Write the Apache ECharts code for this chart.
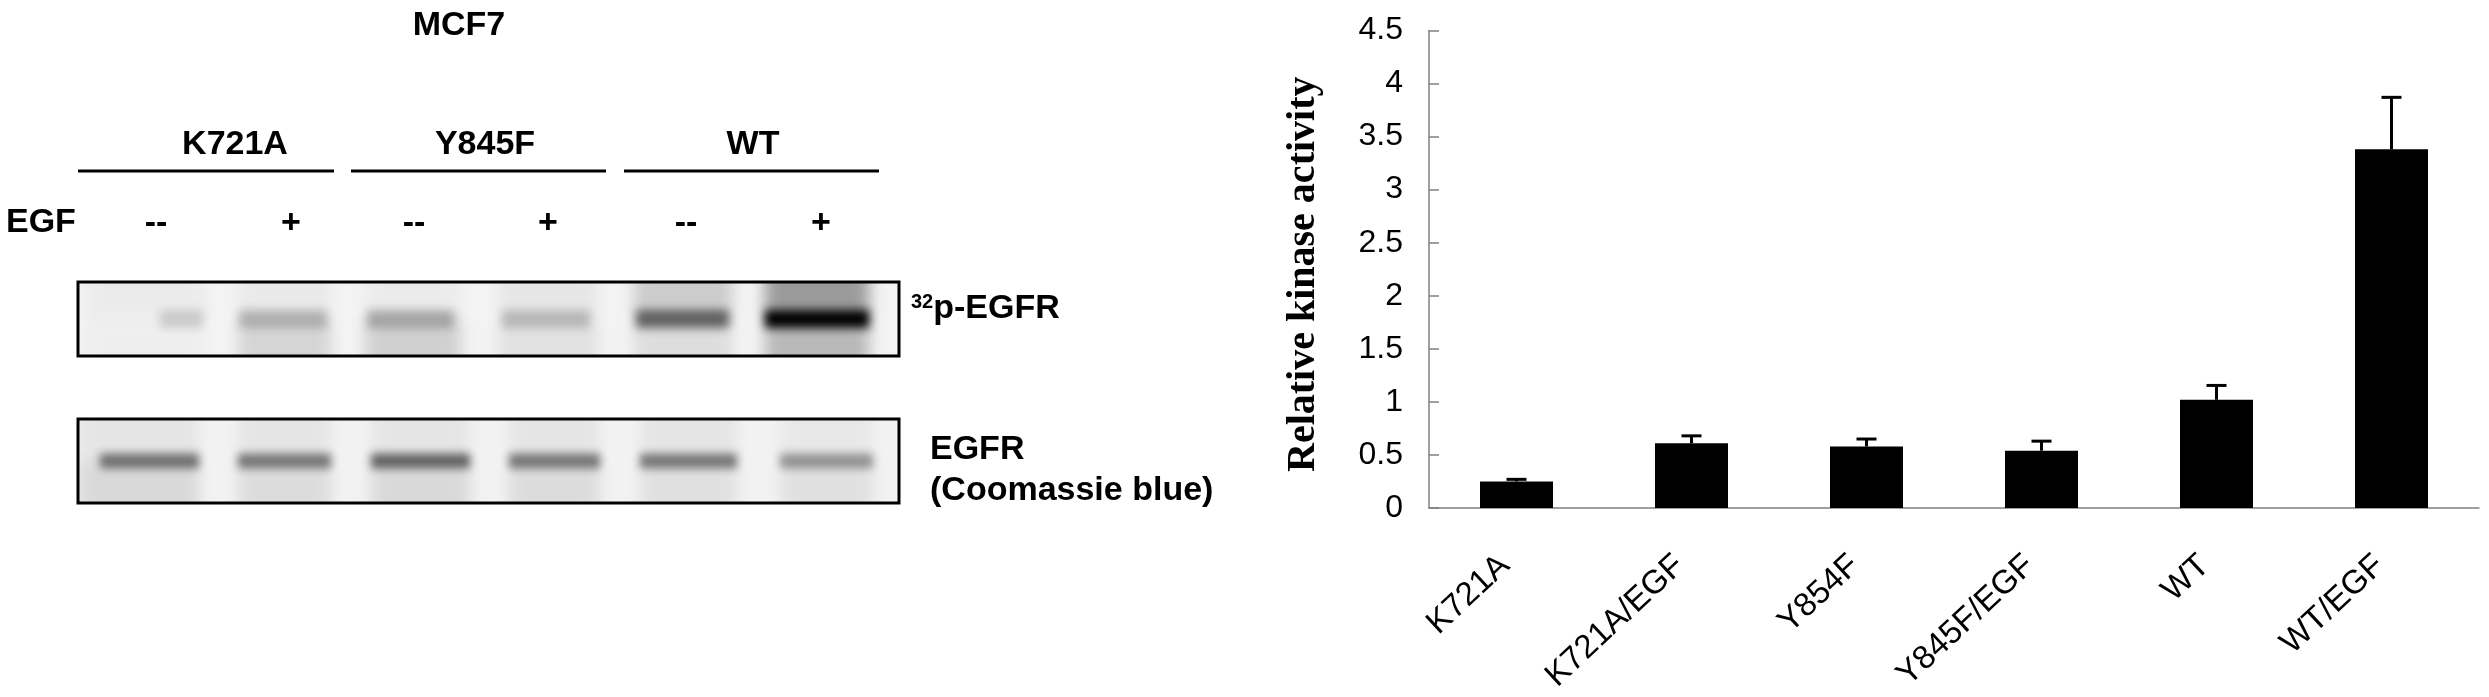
<!DOCTYPE html>
<html>
<head>
<meta charset="utf-8">
<style>
  html, body { margin: 0; padding: 0; background: #fff; }
  #main { width: 2489px; height: 697px; }
</style>
<script src="https://cdn.jsdelivr.net/npm/echarts@6/dist/echarts.min.js"></script>
</head>
<body>
<div id="main"></div>
<script>
// kinase activity bars
var categories = ['K721A', 'K721A/EGF', 'Y854F', 'Y845F/EGF', 'WT', 'WT/EGF'];
var activity = [0.25, 0.61, 0.58, 0.54, 1.02, 3.38];
var errorTop = [0.27, 0.68, 0.65, 0.63, 1.155, 3.87];
var yTicks = { min: 0, max: 4.5, interval: 0.5 };

// blot lanes: darkness 0-1 above the band, of the band, below the band
var pEgfrTop = [0.03, 0.04, 0.03, 0.05, 0.16, 0.36];
var pEgfrBand = [0.15, 0.22, 0.26, 0.2, 0.55, 1];
var pEgfrBottom = [0.02, 0.12, 0.14, 0.07, 0.09, 0.24];
var coomassieTop = [0.05, 0.05, 0.05, 0.05, 0.05, 0.04];
var coomassieBand = [0.5, 0.48, 0.56, 0.48, 0.48, 0.36];
var coomassieBottom = [0.1, 0.09, 0.1, 0.09, 0.07, 0.07];

// lane extents along the gel
var pEgfrLanes = [[7, 129], [160, 253], [287, 383], [420, 520], [556, 654], [687, 791]];
var pEgfrBands = [[82, 125], [161, 249], [289, 376], [424, 512], [558, 651], [687, 791]];
var coomassieLanes = [[0, 121], [160, 253], [293, 392], [431, 522], [562, 659], [702, 795]];
var coomassieBands = [[22, 121], [160, 253], [293, 392], [431, 522], [562, 659], [702, 795]];

var groupLabels = ['K721A', 'Y845F', 'WT'];
var egfSigns = ['--', '+', '--', '+', '--', '+'];

var OFF = 3000; // rects sit off the grid, only their blurred shadow lands on the gel

function blob(x, y, w, h, dark, blur) {
  return {
    type: 'rect',
    shape: { x: x - OFF, y: y, width: w, height: h },
    style: {
      fill: '#000',
      shadowBlur: blur,
      shadowOffsetX: OFF,
      shadowColor: 'rgba(0,0,0,' + dark + ')'
    }
  };
}

function blotSeries(idx, top, band, bottom, lanes, bands, bandHeight, blur) {
  var rows = lanes.map(function (l, i) {
    return [l[0], l[1], bands[i][0], bands[i][1], top[i], band[i], bottom[i]];
  });
  return {
    type: 'custom',
    xAxisIndex: idx,
    yAxisIndex: idx,
    clip: true,
    silent: true,
    data: rows,
    renderItem: function (params, api) {
      var tl = api.coord([api.value(0), 0]);
      var br = api.coord([api.value(1), 1]);
      var bs = api.coord([api.value(2), 0.5]);
      var be = api.coord([api.value(3), 0.5]);
      var midY = bs[1];
      return {
        type: 'group',
        children: [
          blob(tl[0], tl[1] - 30, br[0] - tl[0], midY - tl[1] + 30, api.value(4), 14),
          blob(tl[0], midY, br[0] - tl[0], br[1] - midY + 30, api.value(6), 14),
          blob(bs[0], midY - bandHeight / 2, be[0] - bs[0], bandHeight, api.value(5), blur)
        ]
      };
    }
  };
}

function label(text, x, y, size, align, extra) {
  return {
    type: 'text',
    x: x,
    y: y,
    style: Object.assign({
      text: text,
      fill: '#000',
      font: 'bold ' + size + 'px "Liberation Sans"',
      align: align,
      verticalAlign: 'middle'
    }, extra || {})
  };
}

function frame(x, y, w, h) {
  return {
    type: 'rect',
    z: 100,
    shape: { x: x, y: y, width: w, height: h },
    style: { fill: 'none', stroke: '#000', lineWidth: 3 }
  };
}

function rule(x1, x2, y) {
  return {
    type: 'line',
    shape: { x1: x1, y1: y, x2: x2, y2: y },
    style: { stroke: '#000', lineWidth: 3 }
  };
}

var groupX = [235, 485, 753];
var signX = [156, 291, 414, 548, 686, 821];

var graphics = [
  label('MCF7', 459, 26, 34, 'center'),
  label('EGF', 6, 223, 34, 'left'),
  label('{s|32}p-EGFR', 911, 309, 34, 'left', {
    rich: { s: { font: 'bold 20px "Liberation Sans"', fill: '#000', verticalAlign: 'top', padding: [0, 0, 14, 0] } }
  }),
  label('EGFR', 930, 450, 34, 'left'),
  label('(Coomassie blue)', 930, 491, 34, 'left'),
  rule(78, 334, 171),
  rule(351, 606, 171),
  rule(624, 879, 171),
  frame(78, 282, 821, 74),
  frame(78, 419, 821, 84)
];
groupLabels.forEach(function (t, i) {
  graphics.push(label(t, groupX[i], 145, 34, 'center'));
});
egfSigns.forEach(function (t, i) {
  graphics.push(label(t, signX[i], 224, 34, 'center'));
});

var chart = echarts.init(document.getElementById('main'));
chart.setOption({
  animation: false,
  backgroundColor: '#fff',
  textStyle: { fontFamily: 'Liberation Sans' },
  grid: [
    { left: 78, top: 282, width: 821, height: 74, show: true, backgroundColor: '#f3f3f3', borderWidth: 0 },
    { left: 78, top: 419, width: 821, height: 84, show: true, backgroundColor: '#f2f2f2', borderWidth: 0 },
    { left: 1429, top: 30.5, width: 1050, height: 477.5 }
  ],
  xAxis: [
    { gridIndex: 0, type: 'value', min: 0, max: 821, show: false },
    { gridIndex: 1, type: 'value', min: 0, max: 821, show: false },
    {
      gridIndex: 2,
      type: 'category',
      data: categories,
      axisLine: { lineStyle: { color: '#808080', width: 1.5 } },
      axisTick: { inside: true, length: 10, lineStyle: { color: '#808080', width: 1.5 } },
      axisLabel: { rotate: 43, margin: 42, interval: 0, fontSize: 33, color: '#000', padding: [0, 16, 0, 0] }
    }
  ],
  yAxis: [
    { gridIndex: 0, type: 'value', min: 0, max: 1, inverse: true, show: false },
    { gridIndex: 1, type: 'value', min: 0, max: 1, inverse: true, show: false },
    {
      gridIndex: 2,
      type: 'value',
      min: yTicks.min,
      max: yTicks.max,
      interval: yTicks.interval,
      name: 'Relative kinase activity',
      nameLocation: 'middle',
      nameGap: 105,
      nameRotate: 90,
      nameTextStyle: { fontFamily: 'Liberation Serif', fontWeight: 'bold', fontSize: 40, color: '#000', padding: [0, 10, 0, 0] },
      splitLine: { show: false },
      axisLine: { show: true, lineStyle: { color: '#808080', width: 1.5 } },
      axisTick: { show: true, inside: true, length: 10, lineStyle: { color: '#808080', width: 1.5 } },
      axisLabel: {
        margin: 26,
        fontSize: 32,
        color: '#000',
        formatter: function (v) { return String(v); }
      }
    }
  ],
  graphic: graphics,
  series: [
    blotSeries(0, pEgfrTop, pEgfrBand, pEgfrBottom, pEgfrLanes, pEgfrBands, 18, 10),
    blotSeries(1, coomassieTop, coomassieBand, coomassieBottom, coomassieLanes, coomassieBands, 15, 8),
    {
      type: 'bar',
      xAxisIndex: 2,
      yAxisIndex: 2,
      data: activity,
      barWidth: 73,
      itemStyle: { color: '#000' }
    },
    {
      type: 'custom',
      xAxisIndex: 2,
      yAxisIndex: 2,
      data: activity.map(function (v, i) { return [i, v, errorTop[i]]; }),
      renderItem: function (params, api) {
        var low = api.coord([api.value(0), api.value(1)]);
        var high = api.coord([api.value(0), api.value(2)]);
        var st = { stroke: '#000', lineWidth: 3 };
        return {
          type: 'group',
          children: [
            { type: 'line', shape: { x1: low[0], y1: low[1], x2: high[0], y2: high[1] }, style: st },
            { type: 'line', shape: { x1: high[0] - 10, y1: high[1], x2: high[0] + 10, y2: high[1] }, style: st }
          ]
        };
      }
    }
  ]
});
window.addEventListener('resize', function () {
  chart.resize();
});
</script>
</body>
</html>
